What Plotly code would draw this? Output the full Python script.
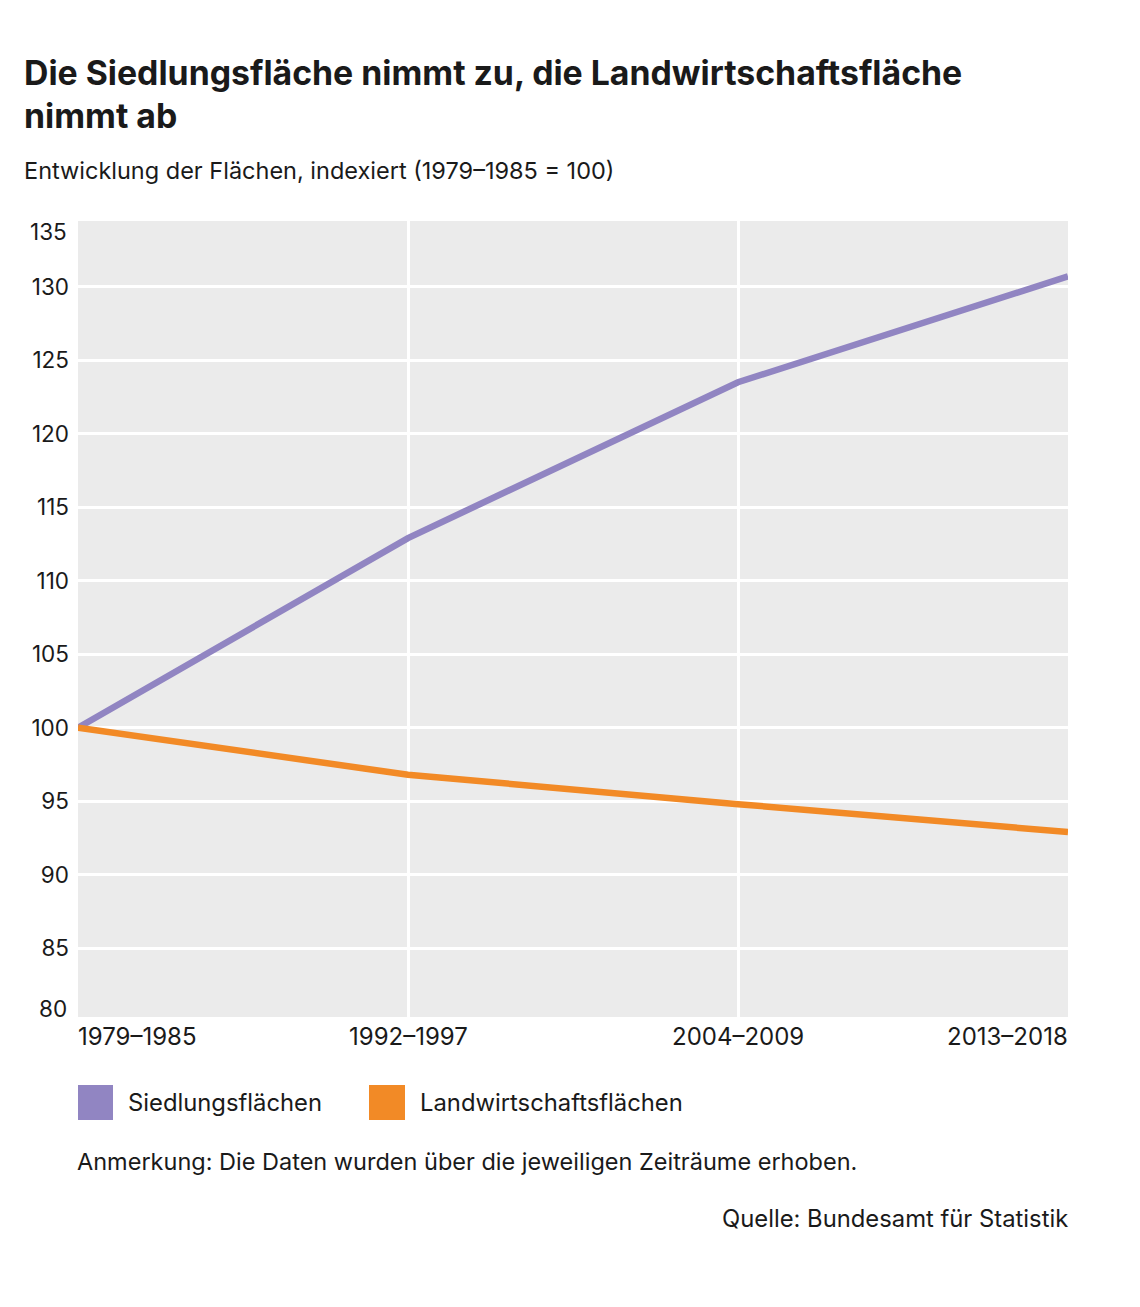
import plotly.graph_objects as go

periods = ["1979–1985", "1992–1997", "2004–2009", "2013–2018"]
siedlung = [100, 112.9, 123.5, 130.7]
landwirtschaft = [100, 96.8, 94.8, 92.9]
y_ticks = [85, 90, 95, 100, 105, 110, 115, 120, 125, 130]
y_edge_labels = ["135", "80"]

PURPLE = "#9185C2"
ORANGE = "#F28A26"
BG = "#EBEBEB"
TXT = "#1a1a1a"
FONT = "Inter"

OFF = 8  # page body margin
W, H = 1140 - 2 * OFF, 1307 - 2 * OFF
L, R, T, B = 78, 1068, 221, 1017

def px(x):
    return (x - L) / (R - L)

def py(y):
    return (B - y) / (B - T)

xs = list(range(len(periods)))

fig = go.Figure()
fig.add_trace(go.Scatter(x=xs, y=siedlung, mode="lines", name="Siedlungsflächen",
                         line=dict(color=PURPLE, width=6.5), showlegend=False,
                         hoverinfo="skip"))
fig.add_trace(go.Scatter(x=xs, y=landwirtschaft, mode="lines", name="Landwirtschaftsflächen",
                         line=dict(color=ORANGE, width=6.5), showlegend=False,
                         hoverinfo="skip"))

ann = []
ann.append(dict(text="<b>Die Siedlungsfläche nimmt zu, die Landwirtschaftsfläche</b>",
                x=px(22), y=py(73), xanchor="left", yanchor="middle",
                font=dict(size=33.8, color=TXT, family=FONT)))
ann.append(dict(text="<b>nimmt ab</b>", x=px(22), y=py(116), xanchor="left", yanchor="middle",
                font=dict(size=33.8, color=TXT, family=FONT)))
ann.append(dict(text="Entwicklung der Flächen, indexiert (1979–1985 = 100)",
                x=px(22), y=py(170), xanchor="left", yanchor="middle",
                font=dict(size=23.5, color=TXT, family=FONT)))
ann.append(dict(text=y_edge_labels[0], x=px(69), y=py(231), xanchor="right", yanchor="middle",
                font=dict(size=22.5, color=TXT, family=FONT)))
ann.append(dict(text=y_edge_labels[1], x=px(69), y=py(1008), xanchor="right", yanchor="middle",
                font=dict(size=22.5, color=TXT, family=FONT)))
anchors = ["left", "center", "center", "right"]
shifts = [-2, 0, 0, 2]
for i, (p, a, s) in enumerate(zip(periods, anchors, shifts)):
    ann.append(dict(text=p, x=i, xref="x", xshift=s, y=py(1036), xanchor=a, yanchor="middle",
                    font=dict(size=24, color=TXT, family=FONT)))
ann.append(dict(text="Siedlungsflächen", x=px(126), y=py(1102), xanchor="left", yanchor="middle",
                font=dict(size=23.8, color=TXT, family=FONT)))
ann.append(dict(text="Landwirtschaftsflächen", x=px(418), y=py(1102), xanchor="left", yanchor="middle",
                font=dict(size=23.8, color=TXT, family=FONT)))
ann.append(dict(text="Anmerkung: Die Daten wurden über die jeweiligen Zeiträume erhoben.",
                x=px(75), y=py(1161), xanchor="left", yanchor="middle",
                font=dict(size=23.5, color=TXT, family=FONT)))
ann.append(dict(text="Quelle: Bundesamt für Statistik",
                x=px(1070), y=py(1218), xanchor="right", yanchor="middle",
                font=dict(size=23.8, color=TXT, family=FONT)))
for a in ann:
    a.setdefault("xref", "paper")
    a["yref"] = "paper"
    a["showarrow"] = False

shapes = [
    dict(type="rect", xref="paper", yref="paper", x0=px(78), x1=px(113), y0=py(1120), y1=py(1085),
         fillcolor=PURPLE, line=dict(width=0)),
    dict(type="rect", xref="paper", yref="paper", x0=px(369), x1=px(405), y0=py(1120), y1=py(1085),
         fillcolor=ORANGE, line=dict(width=0)),
]

fig.update_layout(
    width=W, height=H,
    margin=dict(l=L - OFF, r=1140 - R - OFF, t=T - OFF, b=1307 - B - OFF, pad=0),
    paper_bgcolor="white", plot_bgcolor=BG,
    font=dict(family=FONT, size=22, color=TXT),
    annotations=ann, shapes=shapes,
    xaxis=dict(range=[0, 3], tickvals=[1, 2], showticklabels=False, showgrid=True,
               gridcolor="white", gridwidth=2.5, zeroline=False, showline=False, fixedrange=True),
    yaxis=dict(range=[80.32, 134.47], tickvals=y_ticks, showgrid=True, gridcolor="white",
               gridwidth=2.5, zeroline=False, showline=False, ticks="", ticklabelstandoff=8,
               tickfont=dict(size=22.5, color=TXT, family=FONT), fixedrange=True),
    showlegend=False,
)

fig.write_html("out.html")
